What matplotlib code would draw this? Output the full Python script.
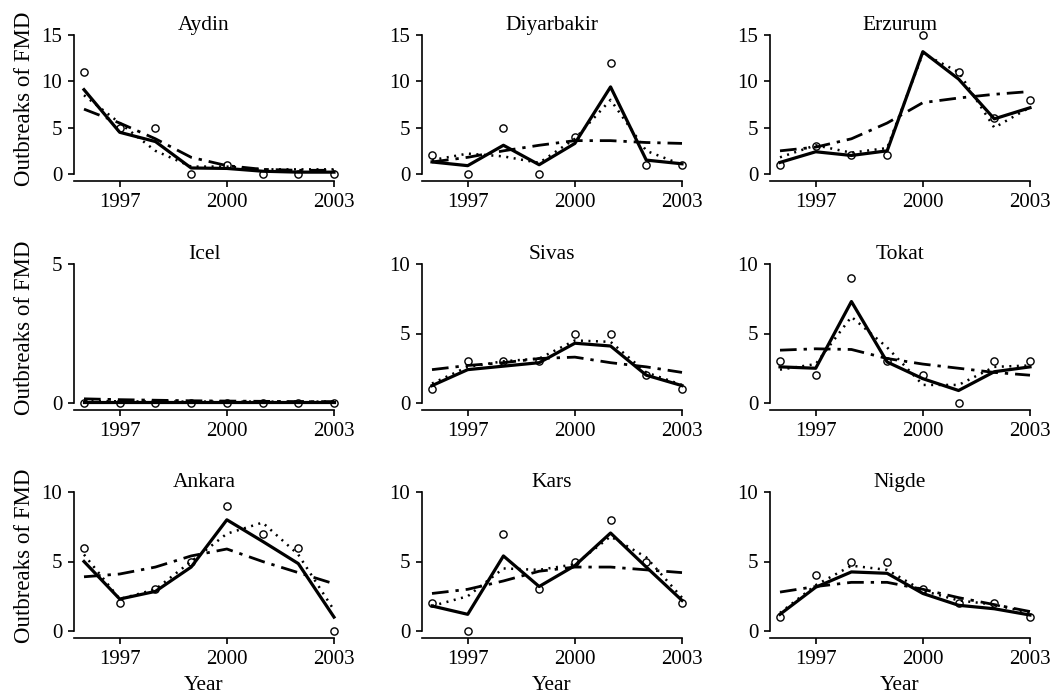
import numpy as np
import matplotlib
matplotlib.use("Agg")
import matplotlib.pyplot as plt

plt.rcParams['font.family'] = ['Liberation Serif', 'DejaVu Serif']

years = [1996, 1997, 1998, 1999, 2000, 2001, 2002, 2003]
provinces = ["Aydin", "Diyarbakir", "Erzurum",
             "Icel", "Sivas", "Tokat",
             "Ankara", "Kars", "Nigde"]
y_top = [15, 15, 15, 5, 10, 10, 10, 10, 10]
y_ticks = [[0, 5, 10, 15], [0, 5, 10, 15], [0, 5, 10, 15],
           [0, 5], [0, 5, 10], [0, 5, 10],
           [0, 5, 10], [0, 5, 10], [0, 5, 10]]
x_ticks = [1997, 2000, 2003]

# observed outbreaks (circles)
observed = {
    "Aydin":      [11, 5, 5, 0, 1, 0, 0, 0],
    "Diyarbakir": [2, 0, 5, 0, 4, 12, 1, 1],
    "Erzurum":    [1, 3, 2, 2, 15, 11, 6, 8],
    "Icel":       [0, 0, 0, 0, 0, 0, 0, 0],
    "Sivas":      [1, 3, 3, 3, 5, 5, 2, 1],
    "Tokat":      [3, 2, 9, 3, 2, 0, 3, 3],
    "Ankara":     [6, 2, 3, 5, 9, 7, 6, 0],
    "Kars":       [2, 0, 7, 3, 5, 8, 5, 2],
    "Nigde":      [1, 4, 5, 5, 3, 2, 2, 1],
}
# fitted model (solid)
fit_solid = {
    "Aydin":      [9.1, 4.5, 3.5, 0.65, 0.6, 0.3, 0.2, 0.2],
    "Diyarbakir": [1.3, 0.9, 3.1, 1.0, 3.3, 9.4, 1.5, 1.1],
    "Erzurum":    [1.25, 2.4, 2.0, 2.5, 13.2, 10.25, 5.95, 7.15],
    "Icel":       [0.05, 0.05, 0.05, 0.05, 0.05, 0.05, 0.05, 0.05],
    "Sivas":      [1.25, 2.4, 2.65, 2.9, 4.3, 4.1, 2.0, 1.25],
    "Tokat":      [2.6, 2.5, 7.3, 2.95, 1.75, 0.9, 2.25, 2.6],
    "Ankara":     [5.0, 2.3, 2.85, 4.6, 8.0, 6.45, 4.85, 1.0],
    "Kars":       [1.8, 1.2, 5.4, 3.2, 4.7, 7.05, 4.6, 2.2],
    "Nigde":      [1.2, 3.15, 4.25, 4.15, 2.7, 1.85, 1.6, 1.15],
}
# fitted model (dotted)
fit_dotted = {
    "Aydin":      [8.5, 5.5, 2.5, 0.8, 0.8, 0.5, 0.5, 0.5],
    "Diyarbakir": [1.5, 2.2, 1.9, 1.2, 3.8, 8.0, 2.5, 1.0],
    "Erzurum":    [1.8, 3.1, 2.3, 2.8, 13.0, 11.0, 5.0, 7.2],
    "Icel":       [0.08, 0.06, 0.05, 0.05, 0.05, 0.05, 0.05, 0.05],
    "Sivas":      [1.4, 2.6, 3.0, 3.2, 4.5, 4.4, 2.2, 1.3],
    "Tokat":      [2.4, 2.8, 6.2, 4.0, 1.3, 1.3, 2.6, 2.7],
    "Ankara":     [5.5, 2.3, 3.0, 5.0, 7.0, 7.8, 5.5, 1.5],
    "Kars":       [1.8, 2.5, 4.5, 4.4, 4.8, 6.8, 5.3, 2.4],
    "Nigde":      [1.3, 3.3, 4.7, 4.4, 2.9, 2.2, 1.9, 1.3],
}
# fitted model (dash-dot)
fit_dashdot = {
    "Aydin":      [7.0, 5.5, 3.8, 1.8, 0.9, 0.5, 0.4, 0.4],
    "Diyarbakir": [1.3, 1.8, 2.5, 3.1, 3.6, 3.6, 3.4, 3.3],
    "Erzurum":    [2.5, 2.9, 3.8, 5.5, 7.7, 8.2, 8.6, 8.9],
    "Icel":       [0.15, 0.12, 0.1, 0.08, 0.07, 0.06, 0.05, 0.05],
    "Sivas":      [2.4, 2.7, 2.9, 3.2, 3.3, 2.9, 2.6, 2.2],
    "Tokat":      [3.8, 3.9, 3.85, 3.2, 2.8, 2.5, 2.2, 2.0],
    "Ankara":     [3.9, 4.1, 4.6, 5.4, 5.9, 5.0, 4.2, 3.4],
    "Kars":       [2.7, 3.0, 3.6, 4.3, 4.6, 4.6, 4.4, 4.2],
    "Nigde":      [2.8, 3.2, 3.5, 3.5, 3.0, 2.4, 1.9, 1.4],
}

W, H = 1057, 695
fig = plt.figure(figsize=(W / 100, H / 100), dpi=100)

col_left = [74, 422, 770]
row_top = [35, 264, 492]
ax_w, ax_h = 260, 146
zero_gap = 7  # px between y=0 and the x axis line

for i, name in enumerate(provinces):
    r, c = divmod(i, 3)
    left = col_left[c] / W
    bottom = 1 - (row_top[r] + ax_h) / H
    ax = fig.add_axes([left, bottom, ax_w / W, ax_h / H])

    top = y_top[i]
    ymin = -top * zero_gap / (ax_h - zero_gap)
    ax.set_ylim(ymin, top)
    ax.set_xlim(1995.72, 2003.0)

    ax.plot(years, fit_dashdot[name], color='black', lw=2.0,
            linestyle=(0, (6, 2.5, 1.2, 2.5)), clip_on=False)
    ax.plot(years, fit_dotted[name], color='black', lw=1.8,
            linestyle=(0, (0.8, 2.2)), clip_on=False)
    ax.plot(years, fit_solid[name], color='black', lw=2.3, clip_on=False)
    ax.plot(years, observed[name], linestyle='none', marker='o', ms=5.2,
            mfc='none', mec='black', mew=1.0, clip_on=False)

    for s in ['top', 'right']:
        ax.spines[s].set_visible(False)
    ax.spines['left'].set_bounds(0, top)
    ax.spines['bottom'].set_bounds(1995.72, 2003)
    ax.spines['left'].set_linewidth(1.2)
    ax.spines['bottom'].set_linewidth(1.2)

    ax.set_xticks(x_ticks)
    ax.set_yticks(y_ticks[i])
    ax.tick_params(direction='out', length=4, width=1.2, labelsize=15, pad=4.5)
    ax.set_title(name, fontsize=15.5, pad=3)

    if c == 0:
        ax.set_ylabel("Outbreaks of FMD", fontsize=16.5)
        ax.yaxis.set_label_coords(-0.15, 0.56)
    if r == 2:
        ax.set_xlabel("Year", fontsize=15.5)
        ax.xaxis.set_label_coords(0.5, -0.26)

fig.savefig("out.png", dpi=100)
